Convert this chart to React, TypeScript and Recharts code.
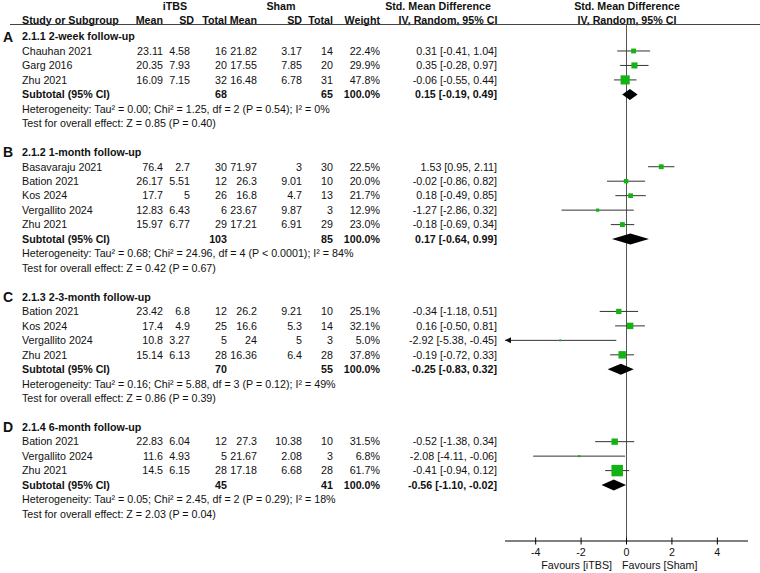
import React from 'react';
import { ScatterChart, Scatter, XAxis, YAxis, ReferenceLine } from 'recharts';

// [study, iTBS mean, iTBS SD, iTBS n, sham mean, sham SD, sham n, weight %, SMD, CI low, CI high]
type Study = [string, number, number, number, number, number, number, number, number, number, number];

const groupLetters = ['A', 'B', 'C', 'D'];
const groupTitles = [
  '2.1.1 2-week follow-up',
  '2.1.2 1-month follow-up',
  '2.1.3 2-3-month follow-up',
  '2.1.4 6-month follow-up',
];

const studies2wk: Study[] = [
  ['Chauhan 2021', 23.11, 4.58, 16, 21.82, 3.17, 14, 22.4, 0.31, -0.41, 1.04],
  ['Garg 2016', 20.35, 7.93, 20, 17.55, 7.85, 20, 29.9, 0.35, -0.28, 0.97],
  ['Zhu 2021', 16.09, 7.15, 32, 16.48, 6.78, 31, 47.8, -0.06, -0.55, 0.44],
];
const studies1mo: Study[] = [
  ['Basavaraju 2021', 76.4, 2.7, 30, 71.97, 3, 30, 22.5, 1.53, 0.95, 2.11],
  ['Bation 2021', 26.17, 5.51, 12, 26.3, 9.01, 10, 20.0, -0.02, -0.86, 0.82],
  ['Kos 2024', 17.7, 5, 26, 16.8, 4.7, 13, 21.7, 0.18, -0.49, 0.85],
  ['Vergallito 2024', 12.83, 6.43, 6, 23.67, 9.87, 3, 12.9, -1.27, -2.86, 0.32],
  ['Zhu 2021', 15.97, 6.77, 29, 17.21, 6.91, 29, 23.0, -0.18, -0.69, 0.34],
];
const studies23mo: Study[] = [
  ['Bation 2021', 23.42, 6.8, 12, 26.2, 9.21, 10, 25.1, -0.34, -1.18, 0.51],
  ['Kos 2024', 17.4, 4.9, 25, 16.6, 5.3, 14, 32.1, 0.16, -0.5, 0.81],
  ['Vergallito 2024', 10.8, 3.27, 5, 24, 5, 3, 5.0, -2.92, -5.38, -0.45],
  ['Zhu 2021', 15.14, 6.13, 28, 16.36, 6.4, 28, 37.8, -0.19, -0.72, 0.33],
];
const studies6mo: Study[] = [
  ['Bation 2021', 22.83, 6.04, 12, 27.3, 10.38, 10, 31.5, -0.52, -1.38, 0.34],
  ['Vergallito 2024', 11.6, 4.93, 5, 21.67, 2.08, 3, 6.8, -2.08, -4.11, -0.06],
  ['Zhu 2021', 14.5, 6.15, 28, 17.18, 6.68, 28, 61.7, -0.41, -0.94, 0.12],
];
const groupStudies = [studies2wk, studies1mo, studies23mo, studies6mo];

// [iTBS total, sham total, SMD, CI low, CI high]
const subtotals = [
  [68, 65, 0.15, -0.19, 0.49],
  [103, 85, 0.17, -0.64, 0.99],
  [70, 55, -0.25, -0.83, 0.32],
  [45, 41, -0.56, -1.1, -0.02],
];
const heterogeneity = [
  'Heterogeneity: Tau² = 0.00; Chi² = 1.25, df = 2 (P = 0.54); I² = 0%',
  'Heterogeneity: Tau² = 0.68; Chi² = 24.96, df = 4 (P < 0.0001); I² = 84%',
  'Heterogeneity: Tau² = 0.16; Chi² = 5.88, df = 3 (P = 0.12); I² = 49%',
  'Heterogeneity: Tau² = 0.05; Chi² = 2.45, df = 2 (P = 0.29); I² = 18%',
];
const overallEffect = [
  'Test for overall effect: Z = 0.85 (P = 0.40)',
  'Test for overall effect: Z = 0.42 (P = 0.67)',
  'Test for overall effect: Z = 0.86 (P = 0.39)',
  'Test for overall effect: Z = 2.03 (P = 0.04)',
];
const xTicks = [-4, -2, 0, 2, 4];
const X_MIN = -5.35;
const X_MAX = 5.35;

// layout
const W = 760;
const H = 573;
const PLOT_TOP = 25;
const PLOT_BOTTOM = 541;
const ROW0 = 36.5;
const ROW_H = 14.47;
const FONT = "'Liberation Sans', Arial, sans-serif";
const FS = 10.7;
const GREEN = '#12b312';
const rowY = (r: number) => ROW0 + r * ROW_H;

// right edges of the numeric columns
const COL = { m1: 163, sd1: 190, n1: 227, m2: 257, sd2: 302, n2: 333, wt: 380, ci: 497 };

// assign a row index to every line of the table
type Line = { r: number; kind: string; g: number; s?: Study };
const lines: Line[] = [];
{
  let r = 0;
  groupStudies.forEach((list, g) => {
    lines.push({ r: r++, kind: 'title', g });
    list.forEach((s) => lines.push({ r: r++, kind: 'study', g, s }));
    lines.push({ r: r++, kind: 'subtotal', g });
    lines.push({ r: r++, kind: 'het', g });
    lines.push({ r: r++, kind: 'test', g });
    r++;
  });
}

const fmt = (v: number) => v.toFixed(2);
const ciText = (e: number, lo: number, hi: number) => `${fmt(e)} [${fmt(lo)}, ${fmt(hi)}]`;

const ciLine = (clipped: boolean) => (p: any) => {
  const pts = p.points;
  const a = pts[0];
  const b = pts[pts.length - 1];
  return (
    <g>
      <line x1={a.x} y1={a.y} x2={b.x} y2={b.y} stroke="#333" strokeWidth={1} />
      {clipped && <path d={`M${a.x},${a.y} l6,-3 l0,6 z`} fill="#111" />}
    </g>
  );
};

const squareShape = (p: any) => {
  if (!p.payload || p.payload.kind !== 'est') return <g />;
  const s = 1 + 0.17 * p.payload.w;
  return <rect x={p.cx - s / 2} y={p.cy - s / 2} width={s} height={s} fill={GREEN} />;
};

const diamondLine = (p: any) => {
  const [a, m, b] = p.points;
  return (
    <path
      d={`M${a.x},${a.y} L${m.x},${m.y - 5.5} L${b.x},${b.y} L${m.x},${m.y + 5.5} Z`}
      fill="#000"
    />
  );
};

const AxisTick = (p: any) => (
  <g>
    <line x1={p.x} x2={p.x} y1={p.y - 3.5} y2={p.y + 3.5} stroke="#000" />
    <text x={p.x} y={p.y + 15} textAnchor="middle" fontSize={FS} fontFamily={FONT} fill="#111">
      {p.payload.value}
    </text>
  </g>
);

const T = (props: any) => (
  <text fontSize={FS} fontFamily={FONT} fill="#111" {...props} />
);

export default function App() {
  const yDomain = [(PLOT_TOP - ROW0) / ROW_H, (PLOT_BOTTOM - ROW0) / ROW_H];
  const studyLines = lines.filter((l) => l.kind === 'study');
  const subLines = lines.filter((l) => l.kind === 'subtotal');

  return (
    <div style={{ position: 'absolute', left: 0, top: 0, width: W, height: H, background: '#fff' }}>
      <ScatterChart width={W} height={H} margin={{ top: PLOT_TOP, right: 12, bottom: 0, left: 505 }}>
        <XAxis
          type="number"
          dataKey="x"
          domain={[X_MIN, X_MAX]}
          ticks={xTicks}
          allowDataOverflow
          height={H - PLOT_BOTTOM}
          tickSize={0}
          tickMargin={0}
          tickLine={false}
          axisLine={{ stroke: '#000' }}
          tick={<AxisTick />}
        />
        <YAxis type="number" dataKey="y" domain={yDomain} reversed hide width={0} allowDataOverflow />
        <ReferenceLine x={0} stroke="#555" />
        {studyLines.map((l, i) => {
          const s = l.s as Study;
          const clipped = s[9] < X_MIN;
          const data = [
            { x: Math.max(s[9], X_MIN), y: l.r, kind: 'lo' },
            { x: s[8], y: l.r, kind: 'est', w: s[7] },
            { x: s[10], y: l.r, kind: 'hi' },
          ];
          return (
            <Scatter
              key={`s${i}`}
              data={data}
              line={ciLine(clipped)}
              shape={squareShape}
              isAnimationActive={false}
              legendType="none"
            />
          );
        })}
        {subLines.map((l, i) => {
          const t = subtotals[l.g];
          const data = [
            { x: t[3], y: l.r, kind: 'lo' },
            { x: t[2], y: l.r, kind: 'mid' },
            { x: t[4], y: l.r, kind: 'hi' },
          ];
          return (
            <Scatter
              key={`d${i}`}
              data={data}
              line={diamondLine}
              shape={() => <g />}
              isAnimationActive={false}
              legendType="none"
            />
          );
        })}
      </ScatterChart>

      <svg width={W} height={H} style={{ position: 'absolute', left: 0, top: 0, pointerEvents: 'none' }}>
        {/* column headers */}
        <g fontWeight="bold">
          <T x={175} y={10} textAnchor="middle">iTBS</T>
          <T x={281} y={10} textAnchor="middle">Sham</T>
          <T x={438} y={10} textAnchor="middle">Std. Mean Difference</T>
          <T x={627} y={10} textAnchor="middle">Std. Mean Difference</T>
          <T x={22} y={23.5}>Study or Subgroup</T>
          <T x={COL.m1} y={23.5} textAnchor="end">Mean</T>
          <T x={194} y={23.5} textAnchor="end">SD</T>
          <T x={COL.n1} y={23.5} textAnchor="end">Total</T>
          <T x={COL.m2} y={23.5} textAnchor="end">Mean</T>
          <T x={COL.sd2} y={23.5} textAnchor="end">SD</T>
          <T x={COL.n2} y={23.5} textAnchor="end">Total</T>
          <T x={COL.wt} y={23.5} textAnchor="end">Weight</T>
          <T x={448} y={23.5} textAnchor="middle">IV, Random, 95% CI</T>
          <T x={627} y={23.5} textAnchor="middle">IV, Random, 95% CI</T>
        </g>
        <line x1={10} x2={W} y1={24.5} y2={24.5} stroke="#444" />

        {lines.map((l, i) => {
          const y = rowY(l.r) + 3.8;
          if (l.kind === 'title') {
            return (
              <g key={i} fontWeight="bold">
                <T x={3} y={rowY(l.r) + 5} fontSize={14}>{groupLetters[l.g]}</T>
                <T x={22} y={y}>{groupTitles[l.g]}</T>
              </g>
            );
          }
          if (l.kind === 'study') {
            const s = l.s as Study;
            return (
              <g key={i}>
                <T x={22} y={y}>{s[0]}</T>
                <T x={COL.m1} y={y} textAnchor="end">{String(s[1])}</T>
                <T x={COL.sd1} y={y} textAnchor="end">{String(s[2])}</T>
                <T x={COL.n1} y={y} textAnchor="end">{String(s[3])}</T>
                <T x={COL.m2} y={y} textAnchor="end">{String(s[4])}</T>
                <T x={COL.sd2} y={y} textAnchor="end">{String(s[5])}</T>
                <T x={COL.n2} y={y} textAnchor="end">{String(s[6])}</T>
                <T x={COL.wt} y={y} textAnchor="end">{s[7].toFixed(1)}%</T>
                <T x={COL.ci} y={y} textAnchor="end">{ciText(s[8], s[9], s[10])}</T>
              </g>
            );
          }
          if (l.kind === 'subtotal') {
            const t = subtotals[l.g];
            return (
              <g key={i} fontWeight="bold">
                <T x={22} y={y}>Subtotal (95% CI)</T>
                <T x={COL.n1} y={y} textAnchor="end">{String(t[0])}</T>
                <T x={COL.n2} y={y} textAnchor="end">{String(t[1])}</T>
                <T x={COL.wt} y={y} textAnchor="end">100.0%</T>
                <T x={COL.ci} y={y} textAnchor="end">{ciText(t[2], t[3], t[4])}</T>
              </g>
            );
          }
          if (l.kind === 'het') return <T key={i} x={22} y={y}>{heterogeneity[l.g]}</T>;
          return <T key={i} x={22} y={y}>{overallEffect[l.g]}</T>;
        })}

        <T x={612} y={569} textAnchor="end">Favours [iTBS]</T>
        <T x={622} y={569}>Favours [Sham]</T>
      </svg>
    </div>
  );
}
